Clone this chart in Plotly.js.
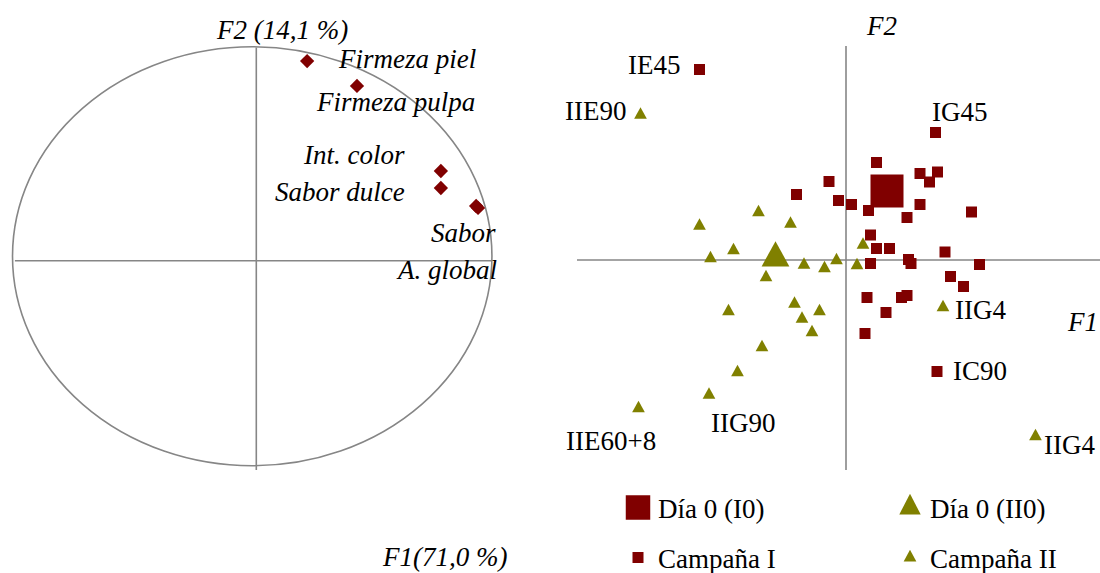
<!DOCTYPE html>
<html>
<head>
<meta charset="utf-8">
<script src="https://cdn.plot.ly/plotly-3.0.1.min.js"></script>
<style>html,body{margin:0;padding:0;background:#fff;}</style>
</head>
<body>
<div id="chart" style="width:1100px;height:573px;"></div>
<script>
// ---------- Data: correlation circle (loadings) ----------
const variableNames = ["Firmeza piel", "Firmeza pulpa", "Int. color", "Sabor dulce", "Sabor", "A. global"];
const variableF1 = [0.212, 0.420, 0.770, 0.770, 0.917, 0.925];
const variableF2 = [0.953, 0.834, 0.428, 0.347, 0.261, 0.252];

// ---------- Data: scores, Campaña I ----------
const campIF1 = [-2.93, 1.79, 0.61, -0.34, -0.99, -0.15, 0.11, 0.45, 1.48, 1.83, 1.67, 1.48, 1.22, 2.51, 0.49, 0.61, 0.87, 1.98, 1.25, 1.30, 0.49, 2.67, 2.09, 2.35, 0.42, 1.11, 1.22, 0.80, 0.38, 1.82];
const campIF2 = [3.81, 2.55, 1.95, 1.57, 1.31, 1.19, 1.11, 0.99, 1.73, 1.76, 1.56, 1.11, 0.85, 0.96, 0.50, 0.23, 0.23, 0.16, 0.01, -0.07, -0.07, -0.09, -0.33, -0.53, -0.75, -0.75, -0.71, -1.05, -1.47, -2.23];
const campILabels = ["IE45", "IG45", "", "", "", "", "", "", "", "", "", "", "", "", "", "", "", "", "", "", "", "", "", "", "", "", "", "", "", "IC90"];

// ---------- Data: scores, Campaña II ----------
const campIIF1 = [-4.11, -2.93, -1.75, -1.11, -2.25, -2.71, 0.34, -0.19, 0.22, -0.84, -0.43, -1.60, -2.35, -1.03, -0.53, -0.88, -0.68, -1.68, -2.17, -2.74, -4.15, 1.94, 3.79];
const campIIF2 = [2.90, 0.68, 0.95, 0.72, 0.19, 0.03, 0.30, -0.01, -0.11, -0.10, -0.17, -0.35, -1.03, -0.88, -1.03, -1.18, -1.45, -1.75, -2.25, -2.70, -2.97, -0.95, -3.53];
const campIILabels = ["IIE90", "", "", "", "", "", "", "", "", "", "", "", "", "", "", "", "", "", "", "IIG90", "IIE60+8", "IIG4", "IIG4"];

// ---------- Data: day 0 references ----------
const day0IF1 = [0.82];
const day0IF2 = [1.38];
const day0IIF1 = [-1.41];
const day0IIF2 = [0.04];

const seriesNames = ["Día 0 (I0)", "Día 0 (II0)", "Campaña I", "Campaña II"];
const axisTitles = {leftF2: "F2 (14,1 %)", leftF1: "F1(71,0 %)", rightF2: "F2", rightF1: "F1"};

// ---------- Styling ----------
const RED = "#800000";
const OLIVE = "#808000";
const GRAY = "#868686";
const FONT = "Liberation Serif, Times New Roman, serif";
const FS = 27;
const W = 1100, H = 573;
const px = v => v / W;
const py = v => 1 - v / H;

// label offsets (pixels) per named point
const labelOffsets = {
  "Firmeza piel": {anchor: "left", dx: 29, dy: 2},
  "Firmeza pulpa": {anchor: "left", dx: -43, dy: -16},
  "Int. color": {anchor: "right", dx: -34, dy: 16},
  "Sabor dulce": {anchor: "right", dx: -34, dy: -4},
  "Sabor": {anchor: "right", dx: 22, dy: -27},
  "A. global": {anchor: "right", dx: 21, dy: -62},
  "IE45": {anchor: "right", dx: -18, dy: 5},
  "IG45": {anchor: "left", dx: -6, dy: 21},
  "IC90": {anchor: "left", dx: 14, dy: 1},
  "IIE90": {anchor: "right", dx: -13, dy: 4},
  "IIG90": {anchor: "left", dx: 0, dy: -28},
  "IIE60+8": {anchor: "center", dx: -28, dy: -32},
};
const iig4Offsets = [{anchor: "left", dx: 10, dy: -2}, {anchor: "left", dx: 6, dy: -8}];

const traces = [
  // left: variable loadings
  {type: "scatter", mode: "markers", x: variableF1, y: variableF2, xaxis: "x", yaxis: "y",
   marker: {symbol: "diamond", size: 11, color: RED}, showlegend: false, hoverinfo: "text", text: variableNames},
  // right: day 0 big markers
  {type: "scatter", mode: "markers", name: seriesNames[0], x: day0IF1, y: day0IF2, xaxis: "x2", yaxis: "y2",
   marker: {symbol: "square", size: 33, color: RED}, legend: "legend"},
  {type: "scatter", mode: "markers", name: seriesNames[1], x: day0IIF1, y: day0IIF2, xaxis: "x2", yaxis: "y2",
   marker: {symbol: "triangle-up", size: 24, color: OLIVE}, legend: "legend"},
  // campaigns
  {type: "scatter", mode: "markers", name: seriesNames[2], x: campIF1, y: campIF2, xaxis: "x2", yaxis: "y2",
   marker: {symbol: "square", size: 11, color: RED}, legend: "legend2"},
  {type: "scatter", mode: "markers", name: seriesNames[3], x: campIIF1, y: campIIF2, xaxis: "x2", yaxis: "y2",
   marker: {symbol: "triangle-up", size: 11, color: OLIVE}, legend: "legend2"},
];

const annotations = [];
function addLabel(text, x, y, xref, yref, off, italic) {
  annotations.push({
    text: italic ? "<i>" + text + "</i>" : text, x: x, y: y, xref: xref, yref: yref,
    xanchor: off.anchor, yanchor: "middle", xshift: off.dx, yshift: off.dy,
    showarrow: false, font: {family: FONT, size: FS, color: "#000"}
  });
}
variableNames.forEach((n, i) => addLabel(n, variableF1[i], variableF2[i], "x", "y", labelOffsets[n], true));
campILabels.forEach((n, i) => { if (n) addLabel(n, campIF1[i], campIF2[i], "x2", "y2", labelOffsets[n], false); });
let k = 0;
campIILabels.forEach((n, i) => {
  if (!n) return;
  const off = n === "IIG4" ? iig4Offsets[k++] : labelOffsets[n];
  addLabel(n, campIIF1[i], campIIF2[i], "x2", "y2", off, false);
});
// axis titles
function addTitle(text, x, y, anchor) {
  annotations.push({text: "<i>" + text + "</i>", x: px(x), y: py(y), xref: "paper", yref: "paper",
    xanchor: anchor, yanchor: "middle", showarrow: false, font: {family: FONT, size: FS, color: "#000"}});
}
addTitle(axisTitles.leftF2, 282, 30, "center");
addTitle(axisTitles.leftF1, 444, 557, "center");
addTitle(axisTitles.rightF2, 882, 26, "center");
addTitle(axisTitles.rightF1, 1065, 322, "left");

const lineStyle = {color: GRAY, width: 1.6};
const shapes = [
  // correlation circle and axes
  {type: "circle", xref: "x", yref: "y", x0: -1.017, x1: 0.983, y0: -0.979, y1: 1.021, line: lineStyle, layer: "below"},
  {type: "line", xref: "x", yref: "y", x0: -1.007, x1: 0.983, y0: 0, y1: 0, line: lineStyle, layer: "below"},
  {type: "line", xref: "x", yref: "y", x0: 0, x1: 0, y0: -0.999, y1: 1.017, line: lineStyle, layer: "below"},
  // score plot axes
  {type: "line", xref: "x2", yref: "y2", x0: -5.38, x1: 5.08, y0: 0, y1: 0, line: lineStyle, layer: "below"},
  {type: "line", xref: "x2", yref: "y2", x0: 0, x1: 0, y0: -4.2, y1: 4.28, line: lineStyle, layer: "below"},
];

const hidden = {visible: false, showgrid: false, zeroline: false, fixedrange: true};
const legendFont = {family: FONT, size: FS, color: "#000"};
const layout = {
  width: W, height: H,
  margin: {l: 0, r: 0, t: 0, b: 0, autoexpand: false},
  paper_bgcolor: "#fff", plot_bgcolor: "rgba(0,0,0,0)",
  font: {family: FONT, size: FS, color: "#000"},
  xaxis: Object.assign({}, hidden, {domain: [px(2.2), px(508)], range: [-1.06, 1.05]}),
  yaxis: Object.assign({}, hidden, {domain: [1 - 470.2 / H, 1 - 42.8 / H], range: [-1.0, 1.04]}),
  xaxis2: Object.assign({}, hidden, {domain: [px(575), 1], range: [-5.42, 5.08]}),
  yaxis2: Object.assign({}, hidden, {domain: [1 - 480 / H, 1 - 40 / H], range: [-4.4, 4.4]}),
  legend: {orientation: "h", x: px(618), xanchor: "left", y: py(508), yanchor: "middle",
    entrywidth: 227, font: legendFont, bgcolor: "rgba(0,0,0,0)", traceorder: "normal"},
  legend2: {orientation: "h", x: px(618), xanchor: "left", y: py(558), yanchor: "middle",
    entrywidth: 227, font: legendFont, bgcolor: "rgba(0,0,0,0)", traceorder: "normal"},
  shapes: shapes,
  annotations: annotations,
  showlegend: true,
};

// triangle glyphs in the reference are about as tall as wide: stretch Plotly's triangles vertically
function stretchTriangles(gd) {
  const root = gd.querySelector(".main-svg").parentNode;
  root.querySelectorAll("path").forEach(p => {
    const d = p.getAttribute("d") || "";
    const isTri = /^M-?[\d.]+,[\d.]+H[\d.]+L0,-[\d.]+Z$/.test(d);
    if (!isTri) return;
    const sc = p.closest(".legend") ? 1.45 : 1.4;
    const t = p.getAttribute("transform") || "";
    p.setAttribute("transform", t + " scale(1," + sc + ")");
  });
  // enlarge the big day-0 symbols in the legend (Plotly caps legend symbols at 16px)
  const leg = gd.querySelector(".legend");
  if (leg) {
    leg.querySelectorAll(".legendpoints path").forEach(p => {
      const t = p.getAttribute("transform") || "";
      const isTri = /L0,-/.test(p.getAttribute("d") || "");
      p.setAttribute("transform", t + (isTri ? " scale(1.16,1.2)" : " scale(1.53)"));
    });
  }
}

Plotly.newPlot("chart", traces, layout, {displayModeBar: false, staticPlot: true}).then(stretchTriangles);
</script>
</body>
</html>
